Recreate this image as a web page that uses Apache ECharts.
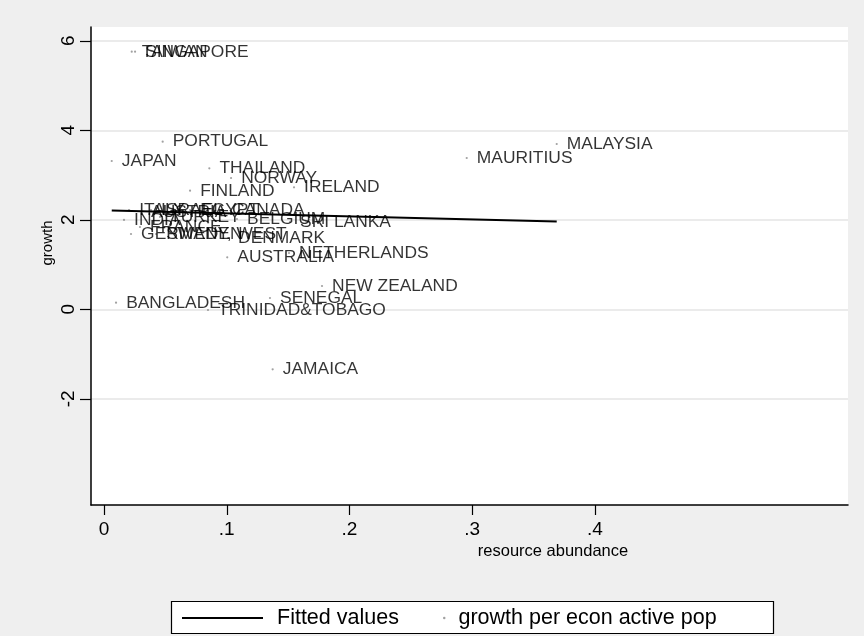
<!DOCTYPE html>
<html>
<head>
<meta charset="utf-8">
<script src="https://cdn.jsdelivr.net/npm/echarts@6/dist/echarts.min.js"></script>
<style>html,body{margin:0;padding:0;background:#efefef;}#chart{width:864px;height:636px;}</style>
</head>
<body>
<div id="chart"></div>
<script>
// ---- data ----
const countries = ['TAIWAN','SINGAPORE','PORTUGAL','JAPAN','THAILAND','NORWAY','FINLAND','IRELAND',
  'MALAYSIA','MAURITIUS','NEW ZEALAND','SENEGAL','BANGLADESH','TRINIDAD&TOBAGO','JAMAICA','AUSTRALIA',
  'NETHERLANDS','ITALY','AUSTRIA','ISRAEL','EGYPT','CANADA','INDIA','TURKEY','BELGIUM','SRI LANKA',
  'FRANCE','GERMANY, WEST','SWEDEN','DENMARK'];
const resource = [0.0226,0.0253,0.0478,0.0063,0.0858,0.1035,0.0701,0.1548,
  0.3688,0.2955,0.1776,0.1352,0.0098,0.0847,0.1374,0.1004,
  0.1507,0.0204,0.0301,0.0383,0.0701,0.0961,0.0163,0.0456,0.1083,0.1515,
  0.0293,0.0220,0.0424,0.1010];
const growth = [5.756,5.756,3.745,3.314,3.151,2.934,2.650,2.726,
  3.694,3.381,0.521,0.253,0.147,-0.016,-1.341,1.162,
  1.258,2.219,2.174,2.219,2.219,2.219,1.996,2.063,2.018,1.951,
  1.839,1.683,1.683,1.593];
const fitX = [0.0063, 0.3688];
const fitY = [2.208, 1.962];
const xTickValues = [0, 0.1, 0.2, 0.3, 0.4];
const xTickLabels = ['0', '.1', '.2', '.3', '.4'];
const yTickValues = [-2, 0, 2, 4, 6];
const yTickLabels = ['-2', '0', '2', '4', '6'];

const FONT = "'Liberation Sans', Arial, sans-serif";
const scatterData = countries.map((c, i) => ({ name: c, value: [resource[i], growth[i]] }));
const lineData = fitX.map((x, i) => [x, fitY[i]]);
function lookup(vals, labels, v) {
  for (let i = 0; i < vals.length; i++) if (Math.abs(vals[i] - v) < 1e-9) return labels[i];
  return '';
}

const chart = echarts.init(document.getElementById('chart'), null, { renderer: 'canvas' });
chart.setOption({
  backgroundColor: '#efefef',
  animation: false,
  grid: { left: 91, top: 27, right: 16, bottom: 131, show: true, backgroundColor: '#ffffff', borderWidth: 0 },
  xAxis: {
    type: 'value', min: -0.01059, max: 0.6061,
    axisLine: { show: true, onZero: false, lineStyle: { color: '#000', width: 1.5 } },
    axisTick: { show: true, length: 10, customValues: xTickValues, lineStyle: { color: '#000', width: 1.2 } },
    axisLabel: { customValues: xTickValues, margin: 15, fontSize: 19, color: '#000', fontFamily: FONT,
      formatter: v => lookup(xTickValues, xTickLabels, v) },
    splitLine: { show: false }
  },
  yAxis: {
    type: 'value', min: -4.373, max: 6.308,
    axisLine: { show: true, onZero: false, lineStyle: { color: '#000', width: 1.5 } },
    axisTick: { show: true, length: 11, customValues: yTickValues, lineStyle: { color: '#000', width: 1.2 } },
    axisLabel: { customValues: yTickValues, rotate: 90, margin: 13, fontSize: 19, color: '#000', fontFamily: FONT,
      formatter: v => lookup(yTickValues, yTickLabels, v) },
    splitLine: { show: true, lineStyle: { color: '#e4e4e4', width: 1.5 } }
  },
  legend: [
    { data: [{ name: 'Fitted values', icon: 'rect' }], left: 182, top: 607, padding: 0, itemWidth: 81, itemHeight: 2,
      selectedMode: false, z: 10,
      textStyle: { fontSize: 21.5, color: '#000', fontFamily: FONT, padding: [0, 0, 0, 9] } },
    { data: [{ name: 'growth per econ active pop', icon: 'circle' }], left: 443, top: 607, padding: 0,
      itemWidth: 2.5, itemHeight: 2.5, selectedMode: false, z: 10,
      textStyle: { fontSize: 21.5, color: '#000', fontFamily: FONT, padding: [0, 0, 0, 8] } }
  ],
  graphic: [
    { type: 'rect', z: 1, shape: { x: 171.5, y: 601.5, width: 602, height: 32 },
      style: { fill: '#fff', stroke: '#000', lineWidth: 1.2 } },
    { type: 'text', z: 5, x: 48, y: 243, rotation: Math.PI / 2,
      style: { text: 'growth', fontSize: 15, fontFamily: FONT, fill: '#000', align: 'center', verticalAlign: 'middle' } },
    { type: 'text', z: 5, x: 553, y: 551,
      style: { text: 'resource abundance', fontSize: 16.5, fontFamily: FONT, fill: '#000', align: 'center', verticalAlign: 'middle' } }
  ],
  series: [
    {
      name: 'Fitted values', type: 'line', data: lineData, symbol: 'none', z: 3,
      lineStyle: { color: '#000', width: 1.8 }, itemStyle: { color: '#000' }
    },
    {
      name: 'growth per econ active pop', type: 'scatter', data: scatterData, symbol: 'circle', symbolSize: 2.2, z: 2,
      itemStyle: { color: '#8a8a8a' },
      label: { show: true, position: 'right', distance: 9, formatter: '{b}', fontSize: 17.4, color: '#000', fontFamily: FONT }
    }
  ]
});
</script>
</body>
</html>
